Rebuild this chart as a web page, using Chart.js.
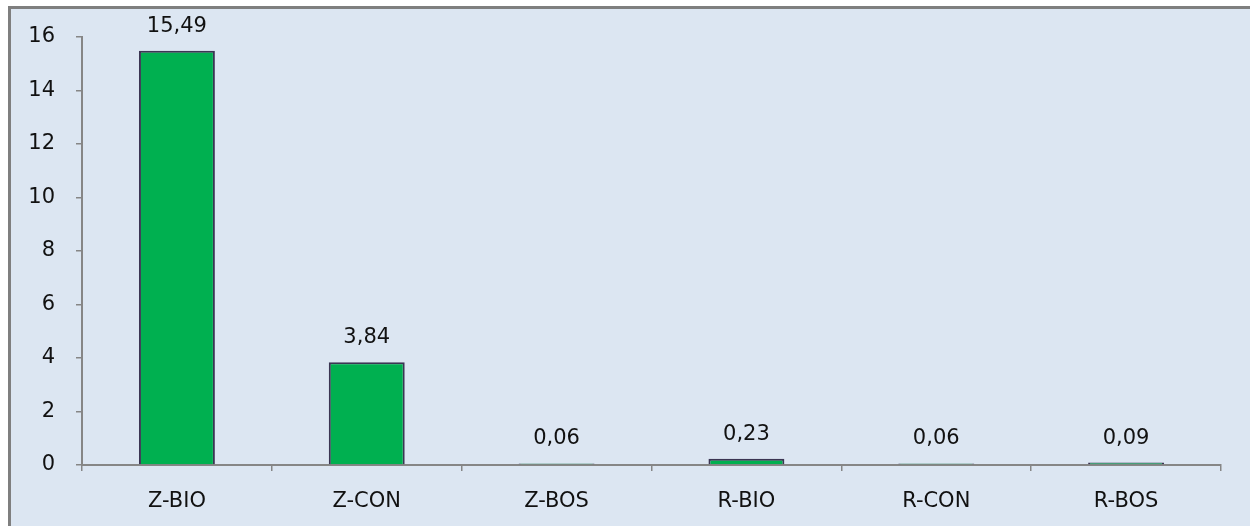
<!DOCTYPE html>
<html>
<head>
<meta charset="utf-8">
<script src="https://cdn.jsdelivr.net/npm/chart.js@4"></script>
<style>
  html, body { margin: 0; padding: 0; background: #fff; }
  #wrap { width: 1250px; height: 526px; }
</style>
</head>
<body>
<div id="wrap"><canvas id="barChart" width="1250" height="526"></canvas></div>
<script>
// categories and values
const categories = ["Z-BIO", "Z-CON", "Z-BOS", "R-BIO", "R-CON", "R-BOS"];
const values = [15.49, 3.84, 0.06, 0.23, 0.06, 0.09];
const yTicks = [0, 2, 4, 6, 8, 10, 12, 14, 16];

const FONT = "'DejaVu Sans', sans-serif";

// panel background + gray frame on the left and top
const panelBg = {
  id: "panelBg",
  beforeDraw(chart) {
    const c = chart.ctx;
    c.save();
    c.fillStyle = "#ffffff";
    c.fillRect(0, 0, chart.width, chart.height);
    c.fillStyle = "#dce6f2";
    c.fillRect(9, 7, chart.width, chart.height);
    c.strokeStyle = "#7f7f7f";
    c.lineWidth = 3;
    c.beginPath();
    c.moveTo(9.5, chart.height);
    c.lineTo(9.5, 7.5);
    c.lineTo(chart.width + 5, 7.5);
    c.stroke();
    c.restore();
  }
};

// value labels above the bars, with comma decimals
const valueLabels = {
  id: "valueLabels",
  afterDatasetsDraw(chart) {
    const c = chart.ctx;
    const meta = chart.getDatasetMeta(0);
    c.save();
    c.font = "21px " + FONT;
    c.fillStyle = "#111";
    c.textAlign = "center";
    c.textBaseline = "alphabetic";
    meta.data.forEach((bar, i) => {
      const txt = values[i].toFixed(2).replace(".", ",");
      c.fillText(txt, bar.x, bar.y - 19);
    });
    c.restore();
  }
};

const ctx = document.getElementById("barChart").getContext("2d");
new Chart(ctx, {
  type: "bar",
  data: {
    labels: categories,
    datasets: [{
      data: values,
      backgroundColor: "#00b050",
      borderColor: "#3b3553",
      borderWidth: 2,
      barPercentage: 0.4,
      categoryPercentage: 1.0
    }]
  },
  options: {
    responsive: false,
    animation: false,
    layout: { padding: { left: 10, top: 37, right: 29, bottom: 0 } },
    plugins: {
      legend: { display: false },
      tooltip: { enabled: false }
    },
    scales: {
      y: {
        min: 0,
        max: 16,
        afterFit(scale) { scale.width = 72; },
        afterBuildTicks(scale) { scale.ticks = yTicks.map(v => ({ value: v })); },
        grid: { drawOnChartArea: false, drawTicks: true, tickLength: 6, color: "#868686", lineWidth: 1.5 },
        border: { display: true, color: "#868686", width: 2 },
        ticks: { padding: 21, color: "#111", font: { family: FONT, size: 21 } }
      },
      x: {
        afterFit(scale) { scale.height = 61; },
        grid: { offset: true, drawOnChartArea: false, drawTicks: true, tickLength: 6, color: "#868686", lineWidth: 1.5 },
        border: { display: true, color: "#868686", width: 2 },
        ticks: { padding: 18, color: "#111", font: { family: FONT, size: 21 } }
      }
    }
  },
  plugins: [panelBg, valueLabels]
});
</script>
</body>
</html>
